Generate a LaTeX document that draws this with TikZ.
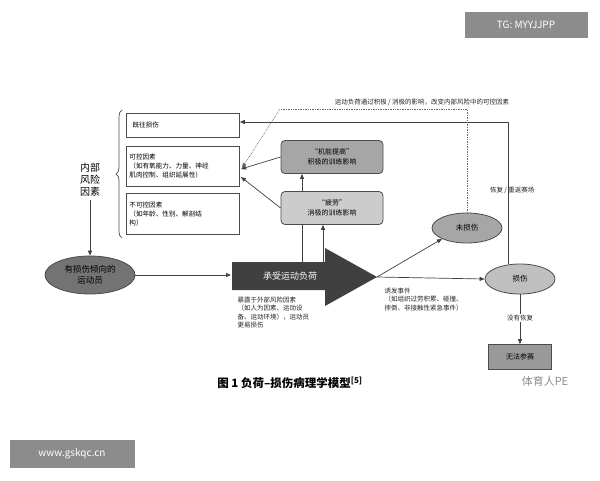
\documentclass[tikz,border=0pt]{standalone}
\usepackage{fontspec}
\setmainfont{Noto Sans CJK SC}
\usetikzlibrary{arrows.meta,shapes.geometric,decorations.pathreplacing}
\begin{document}
\begin{tikzpicture}[x=1pt,y=-1pt,
  box/.style={draw=black!70,line width=0.8pt,fill=white,align=left,font=\fontsize{6.6}{9}\selectfont,inner sep=3pt,anchor=north west},
  rbox/.style={draw=black!70,line width=0.8pt,rounded corners=4pt,align=center,font=\fontsize{7}{10}\selectfont,minimum width=102pt,minimum height=33pt},
  ell/.style={draw=black!70,line width=0.8pt,ellipse,align=center},
  arr/.style={-{Triangle[length=5pt,width=4pt]},black!75,line width=0.7pt},
  lbl/.style={font=\fontsize{6.5}{8.5}\selectfont,align=left,text=black!85}]
\useasboundingbox (0,0) rectangle (600,480);
\fill[white] (0,0) rectangle (600,480);
\node[fill=black!45,text=white,minimum width=123pt,minimum height=26pt,font=\fontsize{10}{12}\selectfont] (tg) at (526,25) {TG: MYYJJPP};
\node[fill=black!45,text=white,minimum width=125pt,minimum height=28pt,font=\fontsize{10}{12}\selectfont] (www) at (72,454) {www.gskqc.cn};
% left boxes
\node[box,minimum width=113pt,minimum height=24pt,text width=105pt] (prev) at (126,113) {\ 既往损伤};
\node[box,minimum width=113pt,minimum height=40pt,text width=107pt,inner sep=2pt] (ctrl) at (126,146) {可控因素\\（如有氧能力、力量、神经\\肌肉控制、组织延展性）};
\node[box,minimum width=113pt,minimum height=41pt,text width=107pt,inner sep=2pt] (unc) at (126,193) {不可控因素\\（如年龄、性别、解剖结\\构）};
\draw[black!70,line width=0.7pt,decoration={brace,amplitude=6pt},decorate] (122,238) -- (122,110);
\node[font=\fontsize{10}{12}\selectfont,align=center] (inner) at (90,180) {内部\\风险\\因素};
\node[ell,fill=black!55,minimum width=90pt,minimum height=38pt,font=\fontsize{8.5}{10.5}\selectfont] (ath) at (90,275) {有损伤倾向的\\运动员};
\draw[arr] (inner.south) -- (ath.north);
% big arrow
\fill[black!75] (232,262) -- (325,262) -- (325,248) -- (377,277) -- (325,306) -- (325,290) -- (232,290) -- cycle;
\coordinate (tip) at (377,277);
\node[text=white,font=\fontsize{9}{11}\selectfont] (load) at (290,276) {承受运动负荷};
\draw[arr] (ath.east) -- (231,275);
\node[lbl,anchor=north west] (ext) at (234,293) {暴露于外部风险因素\\（如人为因素、运动设\\备、运动环境），运动员\\更易损伤};
% rounded boxes
\node[rbox,fill=black!35] (imp) at (332,157) {“机能提高”\\积极的训练影响};
\node[rbox,fill=black!20] (fat) at (332,208) {“疲劳”\\消极的训练影响};
\draw[black!75,line width=0.7pt] (302,262) -- (fat.south -| 302,0);
\draw[arr] (fat.north -| 302,0) -- (imp.south -| 302,0);
\draw[arr] (323,262) -- (fat.south -| 323,0);
\draw[arr] (imp.west) -- (241,169);
\draw[arr] (fat.west) -- (241,177);
% ellipses
\node[ell,fill=black!35,minimum width=70pt,minimum height=30pt,font=\fontsize{7.5}{9}\selectfont] (noinj) at (467,228) {未损伤};
\node[ell,fill=black!25,minimum width=70pt,minimum height=30pt,font=\fontsize{7.5}{9}\selectfont] (inj) at (520,279) {损伤};
\draw[arr] (tip) -- (noinj.south west);
\draw[arr] (tip) -- (inj.west);
\node[lbl,anchor=north west] (evt) at (381,284) {诱发事件\\（如组织过劳积累、碰撞、\\摔倒、非接触性紧急事件）};
% recovery loop
\coordinate (rt) at (508,122);
\draw[arr] (inj.north -| 508,0) -- (rt) -- (prev.east |- rt);
\node[lbl,anchor=east] (rec) at (538,190) {恢复 / 重返赛场};
% dotted
\coordinate (d1) at (467,109);
\coordinate (d2) at (280,109);
\draw[black!60,densely dotted,line width=0.7pt] (noinj.north) -- (d1) -- (d2);
\draw[black!60,densely dotted,line width=0.7pt,-{Triangle[length=5pt,width=4pt]}] (d2) -- (242,168);
\node[lbl] (top) at (422,102) {运动负荷通过积极 / 消极的影响，改变内部风险中的可控因素};
% no recovery
\node[draw=black!70,line width=0.8pt,fill=black!40,minimum width=63pt,minimum height=25pt,font=\fontsize{7}{8}\selectfont] (out) at (520,357) {无法参赛};
\draw[arr] (inj.south) -- (out.north);
\node[lbl,fill=white,inner sep=1pt] (norec) at (520,318) {没有恢复};
% caption
\node[font=\fontsize{11.5}{13}\selectfont\bfseries] (cap) at (290,383) {图 1 负荷–损伤病理学模型\textsuperscript{[5]}};
\node[text=black!45,font=\fontsize{11}{13}\selectfont] (wm) at (545,381) {体育人PE};
\end{tikzpicture}
\end{document}
